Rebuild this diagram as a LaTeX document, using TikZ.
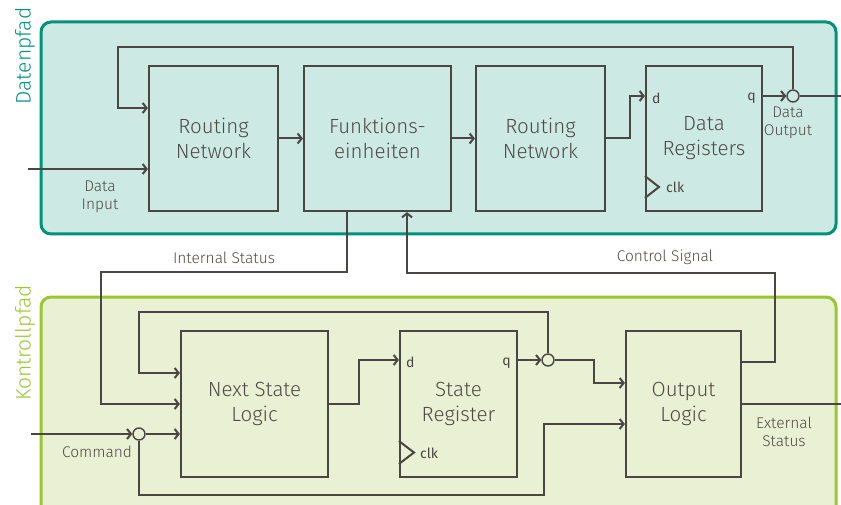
\documentclass[tikz,border=0pt]{standalone}
\usepackage{fontspec}
\setmainfont{Fira Sans Light}
\newfontfamily\pinfont{Fira Sans}
\usetikzlibrary{arrows.meta}
\definecolor{ink}{HTML}{4A4643}
\definecolor{txt}{HTML}{4F4A46}
\definecolor{dpline}{HTML}{00927B}
\definecolor{dpfill}{HTML}{CCE9E4}
\definecolor{kpline}{HTML}{9AC630}
\definecolor{kpfill}{HTML}{EAF0D3}
\begin{document}
\begin{tikzpicture}[x=1pt,y=-1pt,
  blk/.style={draw=ink, line width=2.2pt, text=txt, align=center, inner sep=0pt,
    font=\fontsize{20.5}{25}\selectfont},
  wire/.style={draw=ink, line width=2pt},
  arr/.style={wire, -{Straight Barb[length=4pt,width=10pt]}},
  junc/.style={circle, draw=ink, line width=1.4pt, minimum size=12pt, inner sep=0pt},
  lbl/.style={text=txt, align=center, inner sep=0pt, font=\fontsize{15.5}{18}\selectfont},
  pinlbl/.style={text=ink, inner sep=0pt, font=\pinfont\fontsize{14}{16}\selectfont},
  side/.style={rotate=90, inner sep=0pt, font=\fontsize{21}{23}\selectfont}]
\useasboundingbox (0,0) rectangle (841,505);
\clip (0,0) rectangle (841,505);

% panels
\draw[dpline, line width=3pt, fill=dpfill, rounded corners=10pt] (41,22) rectangle (836,234);
\draw[kpline, line width=3pt, fill=kpfill, rounded corners=10pt] (41,297) rectangle (836,540);
\node[side, text=dpline] (dplabel) at (25,56) {Datenpfad};
\node[side, text=kpline] (kplabel) at (25,343) {Kontrollpfad};

% data path blocks
\node[blk, minimum width=129pt, minimum height=145pt] (rn1) at (213.5,138.5) {Routing\\Network};
\node[blk, minimum width=147pt, minimum height=145pt] (fe) at (377.5,138.5) {Funktions-\\einheiten};
\node[blk, minimum width=129pt, minimum height=145pt] (rn2) at (540.5,138.5) {Routing\\Network};
\node[blk, minimum width=116pt, minimum height=145pt] (dr) at (704,138.5) {Data\\Registers};

% control path blocks
\node[blk, minimum width=147pt, minimum height=146pt] (nsl) at (254.5,404) {Next State\\Logic};
\node[blk, minimum width=117pt, minimum height=146pt] (sr) at (458.5,404) {State\\Register};
\node[blk, minimum width=115pt, minimum height=146pt] (ol) at (683.5,404) {Output\\Logic};

% junctions
\node[junc, fill=dpfill] (djn) at (793,96) {};
\node[junc, fill=kpfill] (sjn) at (548,360) {};
\node[junc, fill=kpfill] (cjn) at (139,434) {};
\coordinate (din) at (28,169);
\coordinate (dout) at (841,96);
\coordinate (cmd) at (31,434);
\coordinate (ext) at (841,404);

% clock inputs
\draw[wire] (dr.west |- 0,176) -- (659,187) -- (dr.west |- 0,198);
\draw[wire] (sr.west |- 0,441) -- (414,452.5) -- (sr.west |- 0,464);
\node[pinlbl, anchor=west] (drd) at (652,98) {d};
\node[pinlbl, anchor=east] (drq) at (756,98) {q};
\node[pinlbl, anchor=west] (drclk) at (666,187) {clk};
\node[pinlbl, anchor=west] (srd) at (406,362) {d};
\node[pinlbl, anchor=east] (srq) at (511,363) {q};
\node[pinlbl, anchor=west] (srclk) at (420,453) {clk};

% data path wiring
\draw[arr] (din) -- (rn1.west |- din);
\draw[arr] (rn1) -- (fe);
\draw[arr] (fe) -- (rn2);
\draw[arr] (rn2.east) -- (630,138.5) -- (630,96) -- (dr.west |- 0,96);
\draw[arr] (dr.east |- 0,96) -- (djn.west);
\draw[wire] (djn.east) -- (dout);
\draw[arr] (djn.north) -- (793,47) -- (118,47) -- (118,108) -- (rn1.west |- 0,108);

% status and control between the paths
\draw[arr] (fe.south -| 347,0) -- (347,272) -- (101,272) -- (101,404) -- (nsl.west |- 0,404);
\draw[arr] (ol.east |- 0,362) -- (775,362) -- (775,273) -- (407,273) -- (fe.south -| 407,0);

% control path wiring
\draw[arr] (cmd) -- (cjn.west);
\draw[arr] (cjn.east) -- (nsl.west |- cjn);
\draw[arr] (cjn.south) -- (139,495) -- (544,495) -- (544,424) -- (ol.west |- 0,424);
\draw[arr] (nsl.east) -- (359,404) -- (359,360) -- (sr.west |- 0,360);
\draw[arr] (sr.east |- 0,360) -- (sjn.west);
\draw[arr] (sjn.north) -- (548,312) -- (139,312) -- (139,373) -- (nsl.west |- 0,373);
\draw[arr] (sjn.east) -- (594,360) -- (594,383) -- (ol.west |- 0,383);
\draw[wire] (ol.east) -- (ext);

% signal labels
\node[lbl] (lin) at (100,197) {Data\\Input};
\node[lbl] (lout) at (788,123) {Data\\Output};
\node[lbl] (lint) at (224,258) {Internal Status};
\node[lbl] (lctl) at (665,257) {Control Signal};
\node[lbl] (lcmd) at (97,452) {Command};
\node[lbl] (lext) at (784,432) {External\\Status};
\end{tikzpicture}
\end{document}
